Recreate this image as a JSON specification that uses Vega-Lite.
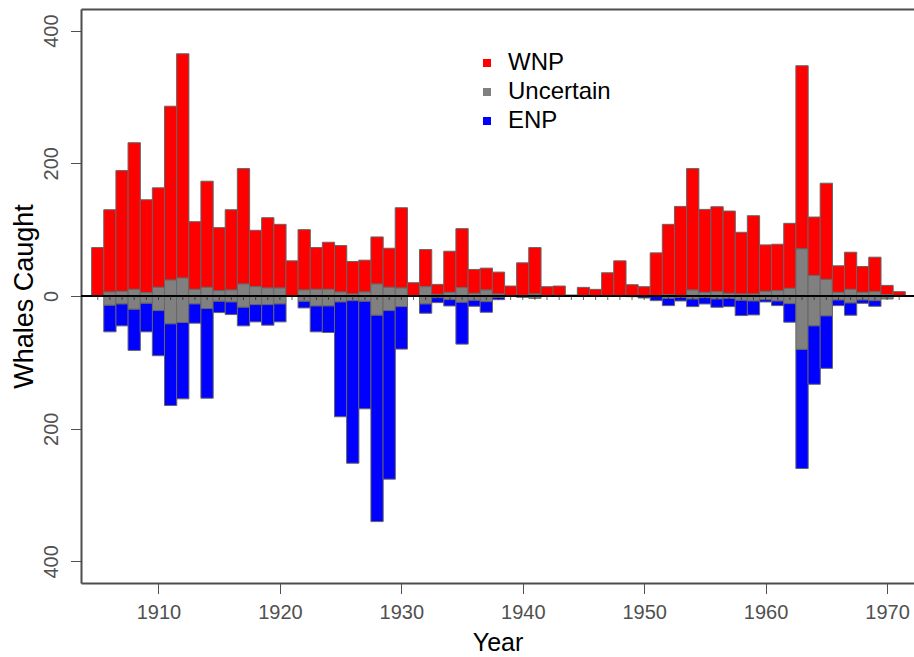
{
  "$schema": "https://vega.github.io/schema/vega-lite/v6.json",
  "width": 833,
  "height": 574,
  "autosize": {"type": "none"},
  "padding": {"left": 81, "top": 9, "right": 0, "bottom": 74},
  "background": "white",
  "config": {
    "font": "Liberation Sans",
    "view": {"stroke": null},
    "axis": {"grid": false}
  },
  "data": {
    "values": [
      {"year": 1905, "group": "WNP", "n": 73},
      {"year": 1906, "group": "WNP", "n": 124}, {"year": 1906, "group": "Uncertain", "n": 6}, {"year": 1906, "group": "Uncertain", "n": -14}, {"year": 1906, "group": "ENP", "n": -40},
      {"year": 1907, "group": "WNP", "n": 182}, {"year": 1907, "group": "Uncertain", "n": 7}, {"year": 1907, "group": "Uncertain", "n": -12}, {"year": 1907, "group": "ENP", "n": -33},
      {"year": 1908, "group": "WNP", "n": 221}, {"year": 1908, "group": "Uncertain", "n": 10}, {"year": 1908, "group": "Uncertain", "n": -20}, {"year": 1908, "group": "ENP", "n": -62},
      {"year": 1909, "group": "WNP", "n": 140}, {"year": 1909, "group": "Uncertain", "n": 5}, {"year": 1909, "group": "Uncertain", "n": -11}, {"year": 1909, "group": "ENP", "n": -43},
      {"year": 1910, "group": "WNP", "n": 150}, {"year": 1910, "group": "Uncertain", "n": 13}, {"year": 1910, "group": "Uncertain", "n": -22}, {"year": 1910, "group": "ENP", "n": -68},
      {"year": 1911, "group": "WNP", "n": 262}, {"year": 1911, "group": "Uncertain", "n": 24}, {"year": 1911, "group": "Uncertain", "n": -42}, {"year": 1911, "group": "ENP", "n": -123},
      {"year": 1912, "group": "WNP", "n": 338}, {"year": 1912, "group": "Uncertain", "n": 27}, {"year": 1912, "group": "Uncertain", "n": -40}, {"year": 1912, "group": "ENP", "n": -115},
      {"year": 1913, "group": "WNP", "n": 102}, {"year": 1913, "group": "Uncertain", "n": 10}, {"year": 1913, "group": "Uncertain", "n": -12}, {"year": 1913, "group": "ENP", "n": -29},
      {"year": 1914, "group": "WNP", "n": 160}, {"year": 1914, "group": "Uncertain", "n": 13}, {"year": 1914, "group": "Uncertain", "n": -19}, {"year": 1914, "group": "ENP", "n": -135},
      {"year": 1915, "group": "WNP", "n": 95}, {"year": 1915, "group": "Uncertain", "n": 8}, {"year": 1915, "group": "Uncertain", "n": -8}, {"year": 1915, "group": "ENP", "n": -17},
      {"year": 1916, "group": "WNP", "n": 121}, {"year": 1916, "group": "Uncertain", "n": 9}, {"year": 1916, "group": "Uncertain", "n": -9}, {"year": 1916, "group": "ENP", "n": -19},
      {"year": 1917, "group": "WNP", "n": 174}, {"year": 1917, "group": "Uncertain", "n": 18}, {"year": 1917, "group": "Uncertain", "n": -17}, {"year": 1917, "group": "ENP", "n": -28},
      {"year": 1918, "group": "WNP", "n": 85}, {"year": 1918, "group": "Uncertain", "n": 14}, {"year": 1918, "group": "Uncertain", "n": -13}, {"year": 1918, "group": "ENP", "n": -26},
      {"year": 1919, "group": "WNP", "n": 106}, {"year": 1919, "group": "Uncertain", "n": 12}, {"year": 1919, "group": "Uncertain", "n": -13}, {"year": 1919, "group": "ENP", "n": -31},
      {"year": 1920, "group": "WNP", "n": 96}, {"year": 1920, "group": "Uncertain", "n": 12}, {"year": 1920, "group": "Uncertain", "n": -12}, {"year": 1920, "group": "ENP", "n": -27},
      {"year": 1921, "group": "WNP", "n": 53},
      {"year": 1922, "group": "WNP", "n": 91}, {"year": 1922, "group": "Uncertain", "n": 9}, {"year": 1922, "group": "Uncertain", "n": -8}, {"year": 1922, "group": "ENP", "n": -10},
      {"year": 1923, "group": "WNP", "n": 63}, {"year": 1923, "group": "Uncertain", "n": 10}, {"year": 1923, "group": "Uncertain", "n": -15}, {"year": 1923, "group": "ENP", "n": -39},
      {"year": 1924, "group": "WNP", "n": 71}, {"year": 1924, "group": "Uncertain", "n": 10}, {"year": 1924, "group": "Uncertain", "n": -15}, {"year": 1924, "group": "ENP", "n": -40},
      {"year": 1925, "group": "WNP", "n": 70}, {"year": 1925, "group": "Uncertain", "n": 6}, {"year": 1925, "group": "Uncertain", "n": -9}, {"year": 1925, "group": "ENP", "n": -173},
      {"year": 1926, "group": "WNP", "n": 49}, {"year": 1926, "group": "Uncertain", "n": 3}, {"year": 1926, "group": "Uncertain", "n": -7}, {"year": 1926, "group": "ENP", "n": -245},
      {"year": 1927, "group": "WNP", "n": 48}, {"year": 1927, "group": "Uncertain", "n": 6}, {"year": 1927, "group": "Uncertain", "n": -8}, {"year": 1927, "group": "ENP", "n": -162},
      {"year": 1928, "group": "WNP", "n": 71}, {"year": 1928, "group": "Uncertain", "n": 18}, {"year": 1928, "group": "Uncertain", "n": -29}, {"year": 1928, "group": "ENP", "n": -311},
      {"year": 1929, "group": "WNP", "n": 59}, {"year": 1929, "group": "Uncertain", "n": 13}, {"year": 1929, "group": "Uncertain", "n": -22}, {"year": 1929, "group": "ENP", "n": -254},
      {"year": 1930, "group": "WNP", "n": 121}, {"year": 1930, "group": "Uncertain", "n": 12}, {"year": 1930, "group": "Uncertain", "n": -16}, {"year": 1930, "group": "ENP", "n": -64},
      {"year": 1931, "group": "WNP", "n": 20},
      {"year": 1932, "group": "WNP", "n": 56}, {"year": 1932, "group": "Uncertain", "n": 14}, {"year": 1932, "group": "Uncertain", "n": -12}, {"year": 1932, "group": "ENP", "n": -14},
      {"year": 1933, "group": "WNP", "n": 15}, {"year": 1933, "group": "Uncertain", "n": 2.5}, {"year": 1933, "group": "Uncertain", "n": -2.5}, {"year": 1933, "group": "ENP", "n": -7.5},
      {"year": 1934, "group": "WNP", "n": 62}, {"year": 1934, "group": "Uncertain", "n": 5.5}, {"year": 1934, "group": "Uncertain", "n": -5.5}, {"year": 1934, "group": "ENP", "n": -9.5},
      {"year": 1935, "group": "WNP", "n": 89}, {"year": 1935, "group": "Uncertain", "n": 12.5}, {"year": 1935, "group": "Uncertain", "n": -9.5}, {"year": 1935, "group": "ENP", "n": -63},
      {"year": 1936, "group": "WNP", "n": 36}, {"year": 1936, "group": "Uncertain", "n": 4}, {"year": 1936, "group": "Uncertain", "n": -6.5}, {"year": 1936, "group": "ENP", "n": -9},
      {"year": 1937, "group": "WNP", "n": 33}, {"year": 1937, "group": "Uncertain", "n": 9}, {"year": 1937, "group": "Uncertain", "n": -8.5}, {"year": 1937, "group": "ENP", "n": -16},
      {"year": 1938, "group": "WNP", "n": 33}, {"year": 1938, "group": "Uncertain", "n": 3}, {"year": 1938, "group": "Uncertain", "n": -2}, {"year": 1938, "group": "ENP", "n": -3.5},
      {"year": 1939, "group": "WNP", "n": 15},
      {"year": 1940, "group": "WNP", "n": 49}, {"year": 1940, "group": "Uncertain", "n": 1}, {"year": 1940, "group": "Uncertain", "n": -2},
      {"year": 1941, "group": "WNP", "n": 70}, {"year": 1941, "group": "Uncertain", "n": 3}, {"year": 1941, "group": "Uncertain", "n": -3.5},
      {"year": 1942, "group": "WNP", "n": 14},
      {"year": 1943, "group": "WNP", "n": 15},
      {"year": 1944, "group": "WNP", "n": 1.5},
      {"year": 1945, "group": "WNP", "n": 13},
      {"year": 1946, "group": "WNP", "n": 10},
      {"year": 1947, "group": "WNP", "n": 35},
      {"year": 1948, "group": "WNP", "n": 53},
      {"year": 1949, "group": "WNP", "n": 17}, {"year": 1949, "group": "Uncertain", "n": -1},
      {"year": 1950, "group": "WNP", "n": 14}, {"year": 1950, "group": "ENP", "n": -3},
      {"year": 1951, "group": "WNP", "n": 65}, {"year": 1951, "group": "ENP", "n": -7},
      {"year": 1952, "group": "WNP", "n": 106}, {"year": 1952, "group": "Uncertain", "n": 2}, {"year": 1952, "group": "Uncertain", "n": -3.5}, {"year": 1952, "group": "ENP", "n": -11},
      {"year": 1953, "group": "WNP", "n": 135}, {"year": 1953, "group": "Uncertain", "n": -2}, {"year": 1953, "group": "ENP", "n": -5.5},
      {"year": 1954, "group": "WNP", "n": 183}, {"year": 1954, "group": "Uncertain", "n": 9}, {"year": 1954, "group": "Uncertain", "n": -4.5}, {"year": 1954, "group": "ENP", "n": -11.5},
      {"year": 1955, "group": "WNP", "n": 125}, {"year": 1955, "group": "Uncertain", "n": 5.5}, {"year": 1955, "group": "Uncertain", "n": -2.5}, {"year": 1955, "group": "ENP", "n": -9.5},
      {"year": 1956, "group": "WNP", "n": 128}, {"year": 1956, "group": "Uncertain", "n": 6.5}, {"year": 1956, "group": "Uncertain", "n": -4.5}, {"year": 1956, "group": "ENP", "n": -12.5},
      {"year": 1957, "group": "WNP", "n": 124}, {"year": 1957, "group": "Uncertain", "n": 4}, {"year": 1957, "group": "Uncertain", "n": -3.5}, {"year": 1957, "group": "ENP", "n": -12.5},
      {"year": 1958, "group": "WNP", "n": 93}, {"year": 1958, "group": "Uncertain", "n": 3}, {"year": 1958, "group": "Uncertain", "n": -6.5}, {"year": 1958, "group": "ENP", "n": -23},
      {"year": 1959, "group": "WNP", "n": 118}, {"year": 1959, "group": "Uncertain", "n": 3}, {"year": 1959, "group": "Uncertain", "n": -7.5}, {"year": 1959, "group": "ENP", "n": -21},
      {"year": 1960, "group": "WNP", "n": 70}, {"year": 1960, "group": "Uncertain", "n": 7}, {"year": 1960, "group": "Uncertain", "n": -5.5}, {"year": 1960, "group": "ENP", "n": -3.5},
      {"year": 1961, "group": "WNP", "n": 70}, {"year": 1961, "group": "Uncertain", "n": 8}, {"year": 1961, "group": "Uncertain", "n": -7.5}, {"year": 1961, "group": "ENP", "n": -7},
      {"year": 1962, "group": "WNP", "n": 98}, {"year": 1962, "group": "Uncertain", "n": 11.5}, {"year": 1962, "group": "Uncertain", "n": -11.5}, {"year": 1962, "group": "ENP", "n": -28},
      {"year": 1963, "group": "WNP", "n": 276}, {"year": 1963, "group": "Uncertain", "n": 71}, {"year": 1963, "group": "Uncertain", "n": -80.5}, {"year": 1963, "group": "ENP", "n": -179.5},
      {"year": 1964, "group": "WNP", "n": 88}, {"year": 1964, "group": "Uncertain", "n": 31}, {"year": 1964, "group": "Uncertain", "n": -45}, {"year": 1964, "group": "ENP", "n": -88},
      {"year": 1965, "group": "WNP", "n": 145}, {"year": 1965, "group": "Uncertain", "n": 25}, {"year": 1965, "group": "Uncertain", "n": -30}, {"year": 1965, "group": "ENP", "n": -79},
      {"year": 1966, "group": "WNP", "n": 40}, {"year": 1966, "group": "Uncertain", "n": 5.5}, {"year": 1966, "group": "Uncertain", "n": -6}, {"year": 1966, "group": "ENP", "n": -8.5},
      {"year": 1967, "group": "WNP", "n": 56}, {"year": 1967, "group": "Uncertain", "n": 10}, {"year": 1967, "group": "Uncertain", "n": -10.5}, {"year": 1967, "group": "ENP", "n": -18.5},
      {"year": 1968, "group": "WNP", "n": 39}, {"year": 1968, "group": "Uncertain", "n": 5.5}, {"year": 1968, "group": "Uncertain", "n": -6}, {"year": 1968, "group": "ENP", "n": -5},
      {"year": 1969, "group": "WNP", "n": 52}, {"year": 1969, "group": "Uncertain", "n": 6.5}, {"year": 1969, "group": "Uncertain", "n": -7}, {"year": 1969, "group": "ENP", "n": -8.5},
      {"year": 1970, "group": "WNP", "n": 14}, {"year": 1970, "group": "Uncertain", "n": 2}, {"year": 1970, "group": "Uncertain", "n": -4.5},
      {"year": 1971, "group": "WNP", "n": 6.5}
    ]
  },
  "layer": [
    {
      "transform": [
        {"calculate": "datum.group === 'Uncertain' ? 0 : 1", "as": "stack_rank"}
      ],
      "mark": {"type": "bar", "width": 12.29, "stroke": "#666666", "strokeWidth": 1},
      "encoding": {
        "x": {
          "field": "year",
          "type": "quantitative",
          "scale": {"domain": [1904.03, 1971.81], "nice": false, "zero": false},
          "axis": {
            "orient": "bottom",
            "values": [1910, 1920, 1930, 1940, 1950, 1960, 1970],
            "format": "d",
            "labelFontSize": 20,
            "labelColor": "#505050",
            "labelPadding": 9,
            "tickColor": "#505050",
            "tickSize": 10.5,
            "tickWidth": 1,
            "domainColor": "#4d4d4d",
            "domainWidth": 2,
            "title": "Year",
            "titleFontSize": 25,
            "titleFontWeight": "normal",
            "titleColor": "black",
            "titlePadding": 8
          }
        },
        "y": {
          "field": "n",
          "type": "quantitative",
          "stack": "zero",
          "scale": {"domain": [-432.5, 432.5], "nice": false, "zero": false},
          "axis": {
            "values": [-400, -200, 0, 200, 400],
            "labelExpr": "abs(datum.value)",
            "labelAngle": -90,
            "labelAlign": "center",
            "labelBaseline": "bottom",
            "labelFontSize": 20,
            "labelColor": "#505050",
            "labelPadding": 9,
            "tickColor": "#505050",
            "tickSize": 10.5,
            "tickWidth": 1,
            "domainColor": "#4d4d4d",
            "domainWidth": 2,
            "title": "Whales Caught",
            "titleFontSize": 27,
            "titleFontWeight": "normal",
            "titleColor": "black",
            "titlePadding": 3
          }
        },
        "color": {
          "field": "group",
          "type": "nominal",
          "scale": {"domain": ["WNP", "Uncertain", "ENP"], "range": ["#FF0000", "#808080", "#0000FF"]},
          "legend": {
            "orient": "none",
            "legendX": 394,
            "legendY": 42,
            "title": null,
            "padding": 0,
            "symbolType": "square",
            "symbolSize": 64,
            "symbolStrokeWidth": 0,
            "labelFontSize": 24,
            "labelColor": "black",
            "labelOffset": 9,
            "rowPadding": 5
          }
        },
        "order": {"field": "stack_rank", "type": "quantitative", "sort": "ascending"}
      }
    },
    {
      "mark": {"type": "rule", "color": "black", "strokeWidth": 2},
      "encoding": {"y": {"datum": 0}}
    },
    {
      "transform": [{"filter": "datum.group === 'WNP'"}],
      "mark": {"type": "tick", "orient": "vertical", "color": "#222222", "size": 4, "thickness": 1},
      "encoding": {
        "x": {
          "field": "year",
          "type": "quantitative",
          "scale": {"domain": [1904.03, 1971.81], "nice": false, "zero": false},
          "axis": {
            "orient": "top",
            "domain": true,
            "ticks": false,
            "labels": false,
            "title": null,
            "domainColor": "#4d4d4d",
            "domainWidth": 2
          }
        },
        "y": {"datum": -3}
      }
    }
  ],
  "resolve": {"axis": {"x": "independent"}}
}
